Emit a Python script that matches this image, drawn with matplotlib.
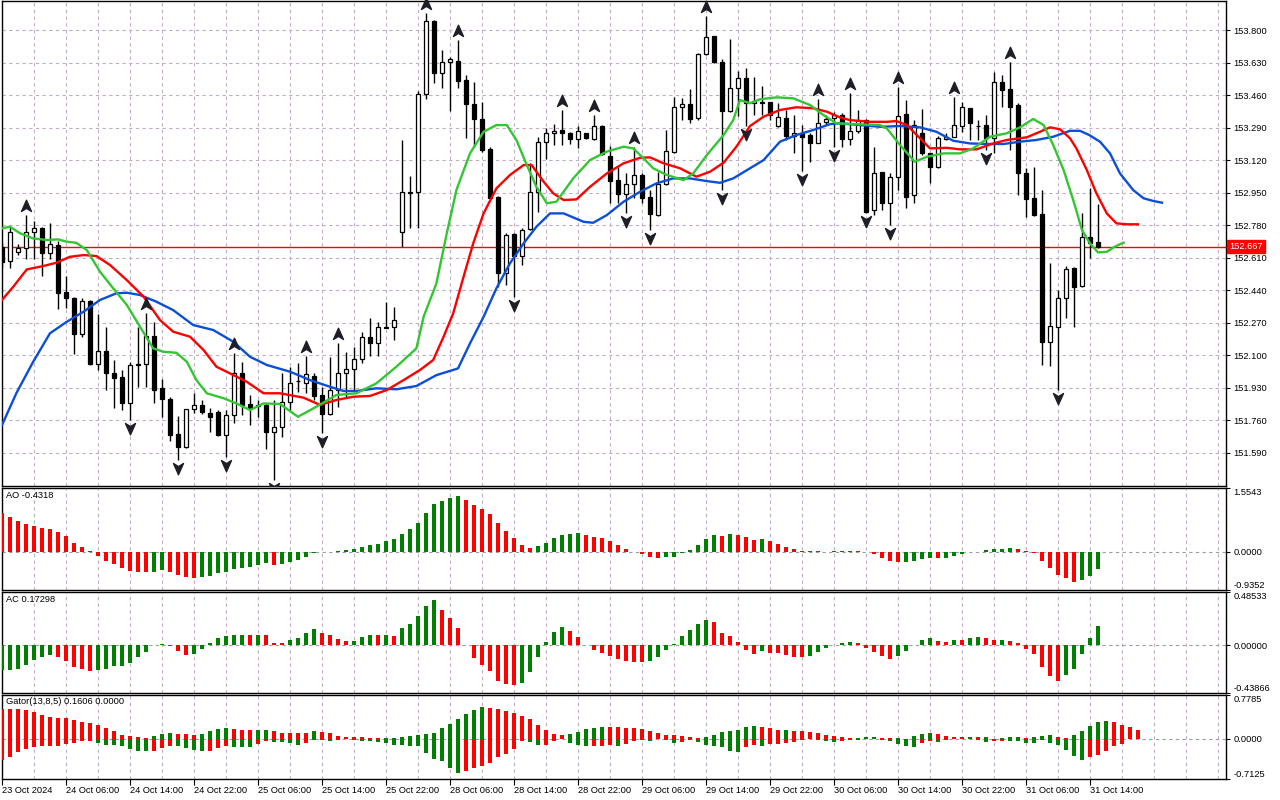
import matplotlib
matplotlib.use("Agg")
import matplotlib.pyplot as plt
from matplotlib.path import Path
from matplotlib.transforms import offset_copy

plt.rcParams['font.family'] = ['Liberation Sans', 'DejaVu Sans']

# ---------------- DATA (H1, 23 Oct 22:00 .. 31 Oct 15:00) ----------------
opens = [152.667, 152.592, 152.637, 152.658, 152.745, 152.763, 152.635, 152.675, 152.428, 152.397,
         152.208, 152.383, 152.051, 152.123, 152.004, 151.987, 151.851, 152.051, 152.051, 152.199,
         151.926, 151.870, 151.687, 151.620, 151.816, 151.839, 151.798, 151.800, 151.682, 151.786,
         152.004, 151.844, 151.833, 151.839, 151.699, 151.722, 151.856, 151.964, 151.952, 151.990,
         151.891, 151.790, 151.917, 152.004, 152.025, 152.078, 152.193, 152.161, 152.245, 152.245,
         152.742, 152.951, 152.951, 153.464, 153.847, 153.574, 153.631, 153.640, 153.539, 153.411,
         153.333, 153.176, 152.928, 152.531, 152.731, 152.618, 152.759, 152.951, 153.213, 153.260,
         153.277, 153.260, 153.228, 153.260, 153.228, 153.300, 153.141, 153.015, 152.941, 152.993,
         153.042, 152.925, 152.832, 152.993, 153.164, 153.399, 153.411, 153.338, 153.673, 153.769,
         153.634, 153.378, 153.495, 153.547, 153.417, 153.422, 153.422, 153.300, 153.338, 153.247,
         153.260, 153.251, 153.211, 153.319, 153.338, 153.355, 153.228, 153.272, 153.329, 152.859,
         153.056, 152.894, 153.033, 153.361, 152.937, 153.260, 153.155, 153.082, 153.228, 153.242,
         153.298, 153.391, 153.298, 153.303, 153.234, 153.527, 153.490, 153.408, 153.051, 152.920,
         152.838, 152.170, 152.245, 152.400, 152.554, 152.463, 152.719, 152.693]
highs = [152.691, 152.771, 152.679, 152.832, 152.801, 152.771, 152.792, 152.696, 152.513, 152.403,
         152.397, 152.388, 152.313, 152.248, 152.074, 152.022, 152.065, 152.248, 152.321, 152.274,
         151.973, 151.882, 151.781, 151.818, 151.900, 151.865, 151.821, 151.812, 151.812, 152.109,
         152.062, 151.891, 151.865, 151.851, 151.865, 152.004, 152.039, 152.057, 152.095, 152.006,
         151.934, 152.091, 152.161, 152.117, 152.143, 152.222, 152.292, 152.274, 152.379, 152.353,
         153.225, 153.036, 153.481, 153.887, 153.850, 153.696, 153.660, 153.748, 153.565, 153.530,
         153.425, 153.190, 152.932, 152.737, 152.737, 152.763, 153.103, 153.242, 153.289, 153.308,
         153.382, 153.268, 153.298, 153.263, 153.355, 153.303, 153.193, 153.085, 153.051, 153.190,
         153.051, 152.963, 153.059, 153.277, 153.451, 153.443, 153.490, 153.678, 153.873, 153.771,
         153.647, 153.751, 153.587, 153.600, 153.553, 153.507, 153.425, 153.417, 153.382, 153.355,
         153.303, 153.260, 153.438, 153.355, 153.373, 153.367, 153.469, 153.382, 153.335, 153.190,
         153.059, 153.051, 153.504, 153.434, 153.329, 153.385, 153.158, 153.246, 153.260, 153.451,
         153.425, 153.394, 153.329, 153.355, 153.579, 153.565, 153.634, 153.417, 153.077, 153.085,
         152.963, 152.583, 152.440, 152.566, 152.562, 152.841, 152.972, 152.890]
lows = [152.555, 152.554, 152.623, 152.602, 152.602, 152.515, 152.602, 152.339, 152.344, 152.104,
        152.196, 152.048, 152.022, 151.917, 151.824, 151.812, 151.760, 151.934, 151.934, 151.847,
        151.777, 151.650, 151.551, 151.614, 151.795, 151.790, 151.699, 151.676, 151.568, 151.743,
        151.786, 151.734, 151.777, 151.607, 151.446, 151.673, 151.812, 151.908, 151.903, 151.865,
        151.691, 151.786, 151.830, 151.882, 151.917, 152.057, 152.095, 152.095, 152.240, 152.179,
        152.663, 152.763, 152.763, 153.438, 153.524, 153.495, 153.376, 153.495, 153.234, 153.190,
        153.164, 152.920, 152.457, 152.466, 152.405, 152.571, 152.754, 152.850, 153.125, 153.199,
        153.199, 153.202, 153.181, 153.228, 153.225, 153.146, 152.894, 152.894, 152.844, 152.920,
        152.894, 152.754, 152.829, 152.989, 153.155, 153.329, 153.315, 153.329, 153.669, 153.626,
        152.963, 153.373, 153.350, 153.298, 153.355, 153.355, 153.329, 153.294, 153.225, 153.155,
        153.064, 153.111, 153.207, 153.303, 153.190, 153.190, 153.199, 153.260, 152.841, 152.832,
        152.859, 152.780, 152.963, 152.867, 152.897, 153.146, 153.001, 153.078, 153.225, 153.240,
        153.268, 153.225, 153.225, 153.172, 153.155, 153.399, 153.172, 152.937, 152.824, 152.827,
        152.048, 152.043, 151.917, 152.295, 152.245, 152.457, 152.606, 152.658]
closes = [152.588, 152.742, 152.658, 152.745, 152.766, 152.635, 152.679, 152.426, 152.397, 152.208,
          152.383, 152.051, 152.123, 152.004, 151.981, 151.851, 152.048, 152.047, 152.199, 151.917,
          151.868, 151.682, 151.620, 151.816, 151.839, 151.804, 151.777, 151.682, 151.786, 152.004,
          151.839, 151.824, 151.841, 151.699, 151.722, 151.856, 151.952, 151.962, 151.999, 151.887,
          151.790, 151.917, 152.004, 152.025, 152.078, 152.193, 152.161, 152.245, 152.243, 152.283,
          152.951, 152.950, 153.464, 153.847, 153.574, 153.631, 153.647, 153.535, 153.411, 153.333,
          153.172, 152.923, 152.531, 152.728, 152.618, 152.754, 152.951, 153.213, 153.260, 153.273,
          153.260, 153.228, 153.273, 153.237, 153.300, 153.150, 153.012, 152.941, 152.995, 153.042,
          152.923, 152.836, 152.993, 153.167, 153.396, 153.411, 153.335, 153.673, 153.762, 153.634,
          153.378, 153.495, 153.547, 153.420, 153.429, 153.420, 153.355, 153.343, 153.247, 153.260,
          153.242, 153.211, 153.312, 153.335, 153.358, 153.228, 153.272, 153.329, 152.850, 153.054,
          152.894, 153.033, 153.352, 152.925, 153.303, 153.155, 153.082, 153.234, 153.242, 153.303,
          153.396, 153.315, 153.296, 153.234, 153.530, 153.486, 153.399, 153.051, 152.915, 152.832,
          152.170, 152.252, 152.397, 152.548, 152.457, 152.716, 152.684, 152.667]
last_price = 152.667

# Alligator lines (bar position, price) (already shifted)
jaw_t = [0, 1.8, 3.9, 6, 8.1, 10.2, 12.25, 14.3, 15.6, 17.25, 19.3, 21.4, 23.9, 26.4, 28.9, 31, 33.1, 36,
         38.5, 41, 42.7, 44.3, 46.8, 49.3, 51.8, 54.3, 57, 58.5, 60.2, 61.8, 63.5, 65.2, 66.8, 68.5, 70.2,
         72.7, 73.9, 75.6, 77.7, 79.75, 81.8, 83.9, 86, 88.1, 89.75, 91.4, 93.5, 95.2, 97.25, 99.3, 101.4,
         103.5, 104.75, 107.25, 109.75, 112.25, 114.75, 116.8, 118.9, 121, 123.1, 125.2, 127.25, 129.3,
         131.4, 133.5, 134.75, 135.9, 137.25, 138.5, 139.75, 141.4, 142.7, 143.9, 145]
jaw = [151.734, 151.901, 152.065, 152.214, 152.274, 152.327, 152.388, 152.423, 152.426, 152.414, 152.379,
       152.335, 152.257, 152.231, 152.170, 152.091, 152.048, 152.013, 151.969, 151.934, 151.912, 151.912,
       151.926, 151.921, 151.938, 151.995, 152.030, 152.161, 152.300, 152.449, 152.580, 152.684, 152.771,
       152.841, 152.841, 152.797, 152.792, 152.832, 152.902, 152.954, 152.998, 153.024, 153.024, 153.010,
       153.001, 153.024, 153.077, 153.120, 153.216, 153.251, 153.277, 153.308, 153.312, 153.303, 153.294,
       153.298, 153.291, 153.268, 153.221, 153.207, 153.204, 153.204, 153.216, 153.225, 153.242, 153.273,
       153.273, 153.251, 153.216, 153.155, 153.050, 152.963, 152.920, 152.906, 152.897]
teeth_t = [0, 1.4, 3.1, 5.2, 6.8, 8.5, 10.2, 11.8, 13.5, 15.6, 17.7, 19.75, 21.4, 23.5, 25.2, 26.8, 28.5,
           30.6, 32.7, 34.75, 37.7, 39.75, 41.8, 43.9, 46, 48.1, 50.2, 52.25, 53.9, 55.2, 56.4, 57.7, 58.9,
           60.2, 61.8, 63.5, 65.2, 66.2, 67.7, 68.9, 70.2, 71.8, 73.5, 75.6, 77.7, 79.75, 81, 82.7, 84.75,
           86.8, 88.5, 90.2, 91.8, 93.5, 95.2, 97.25, 99.3, 101.4, 103.1, 104.75, 106, 108.5, 110.6, 111.8,
           113.1, 114.75, 116, 118.1, 119.75, 121.8, 123.9, 125.6, 128.1, 129.75, 131, 132.25, 133.5, 134.3,
           135.6, 136.8, 138.1, 139.3, 140.6, 142]
teeth = [152.388, 152.457, 152.548, 152.566, 152.583, 152.614, 152.623, 152.618, 152.571, 152.492, 152.405,
         152.283, 152.222, 152.196, 152.126, 152.039, 152.004, 151.960, 151.900, 151.900, 151.877, 151.839,
         151.865, 151.882, 151.886, 151.917, 151.969, 152.022, 152.074, 152.196, 152.318, 152.510, 152.684,
         152.841, 152.972, 153.042, 153.094, 153.094, 153.007, 152.946, 152.911, 152.914, 152.980, 153.050,
         153.103, 153.132, 153.134, 153.103, 153.077, 153.033, 153.059, 153.106, 153.190, 153.298, 153.347,
         153.382, 153.396, 153.391, 153.373, 153.343, 153.329, 153.320, 153.320, 153.324, 153.303, 153.234,
         153.181, 153.184, 153.176, 153.176, 153.207, 153.225, 153.239, 153.268, 153.291, 153.281, 153.234,
         153.181, 153.068, 152.946, 152.841, 152.789, 152.784, 152.784]
lips_t = [0, 1, 2.25, 3.9, 5.6, 7, 8.1, 9.3, 10.6, 12.25, 13.9, 15.6, 17.25, 18.9, 20.2, 21.8, 23.1, 24.3,
          25.6, 27.7, 29.3, 31, 32.7, 34.75, 37, 39.3, 41.8, 44.3, 46.8, 49.3, 51.8, 52.7, 54.3, 55.6, 56.8,
          58.5, 60.2, 61.8, 63.1, 64.3, 65.6, 66.8, 68.1, 69.3, 71.4, 73.5, 75.6, 77.7, 78.9, 80.2, 81.4,
          83.1, 85.2, 86.4, 88.1, 90.2, 91.4, 92.25, 93.5, 94.75, 96.8, 98.9, 101, 102.7, 104.3, 107.25,
          109.75, 110.6, 112.25, 114.1, 115.6, 117.7, 119.75, 121.4, 123.5, 125.6, 127.25, 128.9, 130.2,
          131.4, 132.7, 133.9, 135, 136, 137, 138.1, 139.1, 140.2]
lips = [152.763, 152.771, 152.737, 152.710, 152.702, 152.705, 152.693, 152.687, 152.649, 152.536, 152.449,
        152.362, 152.248, 152.135, 152.117, 152.112, 152.065, 151.969, 151.900, 151.874, 151.847, 151.812,
        151.847, 151.844, 151.777, 151.830, 151.891, 151.900, 151.952, 152.039, 152.135, 152.300, 152.475,
        152.737, 152.963, 153.155, 153.268, 153.303, 153.303, 153.225, 153.094, 152.980, 152.894, 152.902,
        153.024, 153.120, 153.164, 153.190, 153.181, 153.129, 153.077, 153.042, 153.015, 153.050, 153.146,
        153.251, 153.329, 153.434, 153.417, 153.438, 153.448, 153.443, 153.408, 153.355, 153.312, 153.307,
        153.303, 153.286, 153.199, 153.111, 153.137, 153.155, 153.155, 153.181, 153.242, 153.260, 153.291,
        153.335, 153.303, 153.199, 153.068, 152.911, 152.754, 152.684, 152.637, 152.640, 152.667, 152.688]

up_fractals = [3, 18, 29, 38, 42, 53, 57, 70, 74, 79, 88, 102, 106, 112, 119, 126]
down_fractals = [16, 22, 28, 34, 40, 64, 78, 81, 90, 93, 100, 104, 108, 111, 123, 132]

ao = [0.945, 0.846, 0.746, 0.680, 0.622, 0.572, 0.547, 0.481, 0.373, 0.224,
      0.124, 0.008, -0.116, -0.216, -0.290, -0.398, -0.481, -0.489, -0.495, -0.489,
      -0.456, -0.489, -0.564, -0.614, -0.647, -0.622, -0.589, -0.514, -0.489, -0.431,
      -0.390, -0.365, -0.323, -0.265, -0.315, -0.290, -0.257, -0.207, -0.133, -0.033,
      -0.008, 0.003, 0.005, 0.033, 0.058, 0.116, 0.174, 0.199, 0.249, 0.299,
      0.423, 0.547, 0.697, 0.945, 1.169, 1.244, 1.318, 1.368, 1.269, 1.144,
      1.045, 0.920, 0.697, 0.498, 0.323, 0.174, 0.100, 0.149, 0.224, 0.323,
      0.398, 0.423, 0.448, 0.398, 0.365, 0.323, 0.249, 0.174, 0.075, 0.004,
      -0.066, -0.141, -0.166, -0.141, -0.124, -0.033, 0.050, 0.174, 0.299, 0.398,
      0.373, 0.423, 0.398, 0.348, 0.274, 0.299, 0.249, 0.199, 0.124, 0.075,
      0.025, 0.010, 0.006, 0.002, 0.008, 0.012, 0.025, 0.020, -0.008, -0.058,
      -0.149, -0.224, -0.249, -0.240, -0.224, -0.174, -0.149, -0.154, -0.145, -0.100,
      -0.066, -0.010, -0.004, 0.050, 0.058, 0.075, 0.100, 0.075, 0.025, -0.033,
      -0.224, -0.398, -0.572, -0.647, -0.746, -0.697, -0.597, -0.432]
ao_colors = ("rrrrrrrrrr" "rrrrrrrrrg" "grrrrggggg" "ggggrggggg" "gggggggggg" "ggggggggrr" "rrrrrrrggg"
             "gggrrrrrrr" "rrrggggggg" "rgrrrgrrrr" "rrrrgggrrr" "rrrggggrgg" "gggggggrrr" "rrrrrggg")

ac = [-0.227, -0.227, -0.221, -0.181, -0.134, -0.109, -0.087, -0.106, -0.143, -0.202,
      -0.218, -0.237, -0.227, -0.218, -0.190, -0.187, -0.162, -0.112, -0.059, 0.003,
      0.012, -0.006, -0.050, -0.087, -0.078, -0.031, 0.022, 0.069, 0.081, 0.090,
      0.097, 0.090, 0.097, 0.090, 0.022, 0.016, 0.044, 0.069, 0.115, 0.153,
      0.115, 0.090, 0.053, 0.034, 0.040, 0.075, 0.097, 0.096, 0.097, 0.087,
      0.162, 0.199, 0.265, 0.358, 0.411, 0.327, 0.246, 0.162, -0.002, -0.118,
      -0.184, -0.237, -0.324, -0.352, -0.361, -0.343, -0.249, -0.109, 0.031, 0.125,
      0.171, 0.134, 0.078, -0.002, -0.044, -0.072, -0.097, -0.128, -0.146, -0.156,
      -0.158, -0.146, -0.109, -0.044, 0.012, 0.087, 0.143, 0.199, 0.227, 0.209,
      0.115, 0.087, 0.031, -0.044, -0.081, -0.053, -0.072, -0.075, -0.090, -0.105,
      -0.109, -0.100, -0.062, -0.025, 0.006, 0.022, 0.031, 0.022, -0.025, -0.062,
      -0.100, -0.128, -0.100, -0.053, 0.003, 0.050, 0.069, 0.040, 0.031, 0.052,
      0.050, 0.069, 0.078, 0.069, 0.049, 0.051, 0.040, 0.022, -0.034, -0.081,
      -0.202, -0.287, -0.333, -0.277, -0.221, -0.081, 0.069, 0.173]
ac_colors = ("gggggggrrr" "rrgggggggg" "grrrgggggg" "grgrrrgggg" "rrrrgggrgr" "gggggrrrrr" "rrrrrggggg"
             "grrrrrrrrr" "rggggggggr" "rrrrrgrrrr" "rggggggrrr" "rrgggggrrg" "rggrrgrrrr" "rrrggggg")

gator_up = [0.527, 0.527, 0.527, 0.509, 0.485, 0.424, 0.388, 0.364, 0.364, 0.345,
            0.303, 0.279, 0.242, 0.194, 0.139, 0.073, 0.042, 0.040, 0.012, 0.042,
            0.085, 0.097, 0.091, 0.079, 0.073, 0.085, 0.133, 0.182, 0.194, 0.176,
            0.164, 0.164, 0.165, 0.167, 0.133, 0.103, 0.103, 0.103, 0.100, 0.133,
            0.121, 0.097, 0.048, 0.036, 0.030, 0.026, 0.024, 0.012, 0.014, 0.024,
            0.036, 0.048, 0.067, 0.085, 0.103, 0.194, 0.267, 0.358, 0.448, 0.521,
            0.576, 0.558, 0.539, 0.503, 0.467, 0.412, 0.358, 0.248, 0.158, 0.085,
            0.067, 0.085, 0.121, 0.176, 0.194, 0.212, 0.211, 0.210, 0.194, 0.190,
            0.176, 0.139, 0.103, 0.067, 0.066, 0.048, 0.030, 0.012, 0.030, 0.067,
            0.121, 0.139, 0.158, 0.212, 0.230, 0.212, 0.194, 0.158, 0.160, 0.139,
            0.138, 0.121, 0.103, 0.067, 0.048, 0.030, 0.012, 0.014, 0.030, 0.031,
            0.012, 0.010, 0.012, 0.004, 0.048, 0.085, 0.103, 0.085, 0.048, 0.030,
            0.029, 0.031, 0.030, 0.031, 0.003, 0.012, 0.030, 0.031, 0.012, 0.030,
            0.048, 0.067, 0.030, 0.012, 0.067, 0.139, 0.230, 0.303, 0.321, 0.303,
            0.248, 0.212, 0.161]
gator_up_colors = ("rrrrrrrrrr" "rrrrrrrrrg" "ggrrrggggr" "rrggrrrrrg" "rrrrrrrrgg" "gggggggggg"
                   "grrrrrrrrr" "rgggggrrrr" "rrrrrrrrgg" "gggggrrrgr" "rrrrrrrggg" "rrgrgggrrr"
                   "rgrgrgggrg" "ggrrgggggr" "rrr")
gator_dn = [-0.382, -0.327, -0.242, -0.188, -0.145, -0.133, -0.127, -0.125, -0.097, -0.079,
            -0.036, -0.030, -0.079, -0.115, -0.116, -0.127, -0.176, -0.212, -0.224, -0.223,
            -0.170, -0.127, -0.130, -0.170, -0.200, -0.224, -0.222, -0.164, -0.127, -0.139,
            -0.145, -0.146, -0.091, -0.030, -0.048, -0.055, -0.073, -0.109, -0.073, -0.012,
            -0.024, -0.036, -0.018, -0.006, -0.018, -0.030, -0.036, -0.048, -0.079, -0.110,
            -0.115, -0.133, -0.134, -0.261, -0.352, -0.388, -0.515, -0.606, -0.570, -0.515,
            -0.479, -0.424, -0.333, -0.279, -0.188, -0.042, -0.061, -0.115, -0.110, -0.042,
            -0.006, -0.079, -0.115, -0.133, -0.130, -0.120, -0.118, -0.119, -0.097, -0.042,
            -0.024, -0.042, -0.006, -0.024, -0.079, -0.061, -0.024, -0.061, -0.115, -0.133,
            -0.152, -0.224, -0.242, -0.152, -0.115, -0.133, -0.097, -0.096, -0.079, -0.061,
            -0.018, -0.010, -0.024, -0.042, -0.061, -0.036, -0.018, -0.019, -0.006, -0.005,
            -0.018, -0.042, -0.097, -0.133, -0.152, -0.079, -0.036, -0.061, -0.018, -0.006,
            -0.004, -0.004, -0.018, -0.061, -0.036, -0.035, -0.036, -0.037, -0.079, -0.080,
            -0.024, -0.079, -0.115, -0.206, -0.315, -0.370, -0.333, -0.297, -0.224, -0.133,
            -0.097]
gator_dn_colors = ("rrrrrrrrrr" "rrgggggggr" "rrggggrrrg" "ggrrggggrr" "ggrrgggggg" "ggggggggrr"
                   "rrrrrrggrr" "rgggrrrgrr" "rgrggrrggg" "gggrrgrrrr" "rrgggrrgrr" "gggggrrgrr"
                   "rrggrrgggg" "rgggggrrrr" "r")

price_ticks = [153.800, 153.630, 153.460, 153.290, 153.120, 152.950, 152.780, 152.610,
               152.440, 152.270, 152.100, 151.930, 151.760, 151.590]
time_labels = ['23 Oct 2024', '24 Oct 06:00', '24 Oct 14:00', '24 Oct 22:00', '25 Oct 06:00',
               '25 Oct 14:00', '25 Oct 22:00', '28 Oct 06:00', '28 Oct 14:00', '28 Oct 22:00',
               '29 Oct 06:00', '29 Oct 14:00', '29 Oct 22:00', '30 Oct 06:00', '30 Oct 14:00',
               '30 Oct 22:00', '31 Oct 06:00', '31 Oct 14:00']
ao_ticks = [1.5543, 0.0, -0.9352]
ac_ticks = [0.48533, 0.0, -0.43866]
gator_ticks = [0.7785, 0.0, -0.7125]

# ---------------- STYLE ----------------
RED = '#ff0000'
GREEN = '#008000'
GRID = '#c2adc4'
ZERO = '#9c9caa'
COL = {'r': RED, 'g': GREEN}
FS = 6.7
XMAX = 153

fig = plt.figure(figsize=(12.8, 8), dpi=100)
fig.patch.set_facecolor('white')
L, W = 2 / 1280, 1224 / 1280
ax = fig.add_axes([L, 1 - 486 / 800, W, 485 / 800])
ax_ao = fig.add_axes([L, 1 - 590 / 800, W, 102 / 800])
ax_ac = fig.add_axes([L, 1 - 693 / 800, W, 100.7 / 800])
ax_g = fig.add_axes([L, 1 - 778.7 / 800, W, 83.4 / 800])

for a in (ax, ax_ao, ax_ac, ax_g):
    a.set_xlim(0, XMAX)
    for s in a.spines.values():
        s.set_color('black')
        s.set_linewidth(1.0)
    a.yaxis.tick_right()
    a.tick_params(axis='y', direction='out', length=3, width=0.8, labelsize=FS, pad=2.5, colors='black')
    for xv in range(4, XMAX, 4):
        a.axvline(xv, color=GRID, lw=0.8, ls=(0, (3, 3)), zorder=0)
    a.set_xticks([])

# ---------------- MAIN PRICE PANEL ----------------
ax.set_ylim(151.415, 153.952)
ax.set_yticks(price_ticks)
ax.set_yticklabels([f'{v:.3f}' for v in price_ticks])
for yv in price_ticks:
    ax.axhline(yv, color=GRID, lw=0.8, ls=(0, (3, 3)), zorder=0)

ax.axhline(last_price, color=RED, lw=1.0, zorder=2)

n = len(opens)
idx = list(range(n))
ax.vlines(idx, lows, highs, color='black', lw=1.0, zorder=3)
bottoms = [min(o, c) for o, c in zip(opens, closes)]
heights = [abs(c - o) for o, c in zip(opens, closes)]
faces = ['white' if c >= o else 'black' for o, c in zip(opens, closes)]
ax.bar(idx, heights, bottom=bottoms, width=0.62, color=faces, edgecolor='black', linewidth=0.9, zorder=4)

ax.plot(jaw_t, jaw, color='#0b4fd6', lw=1.7, zorder=5)
ax.plot(teeth_t, teeth, color=RED, lw=1.7, zorder=5)
ax.plot(lips_t, lips, color='#33c633', lw=1.7, zorder=5)

up_arrow = Path([(0, 1), (0.8, -0.8), (0, -0.3), (-0.8, -0.8), (0, 1)],
                [Path.MOVETO, Path.LINETO, Path.LINETO, Path.LINETO, Path.CLOSEPOLY])
dn_arrow = Path([(0, -1), (0.8, 0.8), (0, 0.3), (-0.8, 0.8), (0, -1)],
                [Path.MOVETO, Path.LINETO, Path.LINETO, Path.LINETO, Path.CLOSEPOLY])
up_tr = offset_copy(ax.transData, fig=fig, x=0, y=9, units='dots')
dn_tr = offset_copy(ax.transData, fig=fig, x=0, y=-8, units='dots')
ax.plot(up_fractals, [highs[i] for i in up_fractals], ls='none', marker=up_arrow, ms=9,
        color='#1e1e28', transform=up_tr, zorder=6, clip_on=False)
ax.plot(down_fractals, [lows[i] for i in down_fractals], ls='none', marker=dn_arrow, ms=9,
        color='#1e1e28', transform=dn_tr, zorder=6)

ax.annotate(f'{last_price:.3f}', xy=(1, last_price), xycoords=('axes fraction', 'data'),
            xytext=(2.5, 0), textcoords='offset points', va='center', ha='left', fontsize=FS,
            color='white', bbox=dict(boxstyle='square,pad=0.25', fc=RED, ec=RED),
            annotation_clip=False, zorder=10)


# ---------------- INDICATOR PANELS ----------------
def panel(a, ylim, ticks, fmt, title):
    a.set_ylim(*ylim)
    a.axhline(0, color=ZERO, lw=0.8, ls=(0, (3, 3)), zorder=1)
    a.set_yticks(ticks)
    a.set_yticklabels([fmt.format(t) for t in ticks])
    labs = a.get_yticklabels()
    labs[0].set_va('top')
    labs[-1].set_va('bottom')
    a.text(0.003, 0.975, title, transform=a.transAxes, va='top', ha='left', fontsize=FS, zorder=10)


ax_ao.bar(range(len(ao)), ao, width=0.6, color=[COL[c] for c in ao_colors], zorder=3)
panel(ax_ao, (-0.9352, 1.5543), ao_ticks, '{:.4f}', 'AO -0.4318')

ax_ac.bar(range(len(ac)), ac, width=0.6, color=[COL[c] for c in ac_colors], zorder=3)
panel(ax_ac, (-0.43866, 0.48533), ac_ticks, '{:.5f}', 'AC 0.17298')

ax_g.bar(range(len(gator_up)), gator_up, width=0.6, color=[COL[c] for c in gator_up_colors], zorder=3)
ax_g.bar(range(len(gator_dn)), gator_dn, width=0.6, color=[COL[c] for c in gator_dn_colors], zorder=3)
panel(ax_g, (-0.7125, 0.7785), gator_ticks, '{:.4f}', 'Gator(13,8,5) 0.1606 0.0000')

ax_g.set_xticks(list(range(0, 8 * len(time_labels), 8)))
ax_g.set_xticklabels(time_labels)
ax_g.tick_params(axis='x', direction='out', length=4, width=0.8, labelsize=FS, pad=1.5, colors='black')
for lab in ax_g.get_xticklabels():
    lab.set_ha('left')

fig.savefig('out.png', dpi=100, facecolor='white')
